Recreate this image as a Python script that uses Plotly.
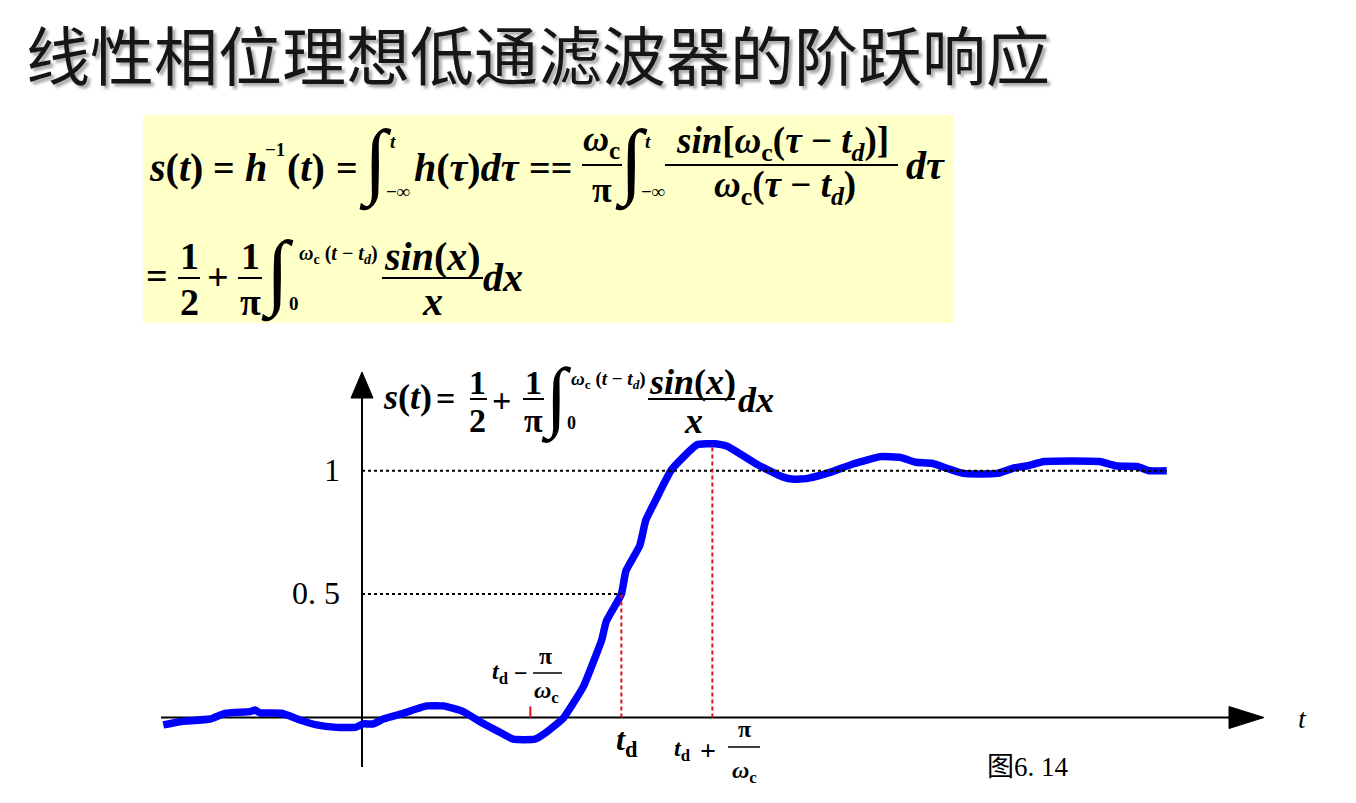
import plotly.graph_objects as go

# ---- data: step response of the linear-phase ideal low-pass filter ----
# t measured in units of pi/omega_c from the origin, s(t) the step response
t_vals = [-2.184, -2.000, -1.670, -1.505, -1.231, -1.176, -1.121, -0.882, -0.681,
          -0.498, -0.278, -0.077, 0.014, 0.124, 0.234, 0.454, 0.711, 0.893, 1.113,
          1.297, 1.480, 1.663, 1.901, 2.011, 2.212, 2.432, 2.579, 2.634, 2.684,
          2.850, 2.901, 3.053, 3.118, 3.226, 3.399, 3.681, 3.877, 4.008, 4.354,
          4.614, 4.744, 4.896, 5.134, 5.395, 5.698, 5.915, 6.088, 6.262, 6.609,
          6.977, 7.173, 7.302, 7.498, 8.104, 8.300, 8.516, 8.646, 8.843]
s_vals = [-0.030, -0.017, -0.006, 0.017, 0.024, 0.030, 0.019, 0.017, -0.010,
          -0.030, -0.040, -0.040, -0.026, -0.026, -0.006, 0.017, 0.047, 0.047, 0.024,
          -0.017, -0.053, -0.088, -0.088, -0.064, -0.003, 0.125, 0.260, 0.314, 0.389,
          0.500, 0.595, 0.697, 0.799, 0.880, 1.003, 1.105, 1.109, 1.100, 1.023,
          0.976, 0.965, 0.969, 0.992, 1.027, 1.057, 1.054, 1.034, 1.030, 0.989,
          0.989, 1.012, 1.019, 1.037, 1.037, 1.019, 1.017, 1.000, 1.000]

TD = 2.85          # t_d
PI_WC = 1.0        # pi / omega_c
HALF = 0.5
ONE = 1.0
PEAK = 1.109       # s(t_d + pi/omega_c)

y_tick_values = [ONE, HALF]
y_tick_labels = ["1", "0. 5"]
title_text = "线性相位理想低通滤波器的阶跃响应"
caption_text = "图6. 14"

# ---- page geometry ----
W, H = 1356, 803
OX, OY = 362.0, 717.5      # pixel position of the origin
KX, KY = 91.0, 246.8       # pixels per unit on t and s

SERIF = "Liberation Serif, Times New Roman, serif"
CJK = "Noto Sans CJK SC, sans-serif"


def u(px):
    return (px - OX) / KX


def v(py):
    return (OY - py) / KY


def paper(px, py):
    return px / W, 1 - py / H


annotations = []
shapes = []


def label(px, py, text, size, xanchor="center", family=SERIF, color="black", **kw):
    x, y = paper(px, py)
    annotations.append(dict(x=x, y=y, xref="paper", yref="paper", text=text,
                            showarrow=False, xanchor=xanchor, yanchor="middle",
                            font=dict(family=family, size=size, color=color), **kw))


def bar(x0, x1, py, width=2):
    a0, b0 = paper(x0, py)
    a1, _ = paper(x1, py)
    shapes.append(dict(type="line", xref="paper", yref="paper", x0=a0, x1=a1,
                       y0=b0, y1=b0, line=dict(color="black", width=width)))


# ---- title ----
label(24, 52, title_text, 64, xanchor="left", family=CJK, color="#161616")
annotations[-1]["font"]["shadow"] = "3px 3px 3px rgba(0,0,0,0.35)"

# ---- formula panel ----
bx0, by0 = paper(143, 115)
bx1, by1 = paper(954, 323)
shapes.append(dict(type="rect", xref="paper", yref="paper", x0=bx0, x1=bx1,
                   y0=by1, y1=by0, fillcolor="#FFFFC8", line=dict(width=0),
                   layer="below"))

OMEGA_C = "<i>ω</i><sub>c</sub>"
TAU_TD = "(<i>τ</i> − <i>t</i><sub><i>d</i></sub>)"
T_TD = "(<i>t</i> − <i>t</i><sub><i>d</i></sub>)"
INTEGRAL = "<b>∫</b>"

# first line
label(176, 168, "<b><i>s</i>(<i>t</i>)</b>", 40)
label(224, 168, "<b>=</b>", 38)
label(256, 168, "<b><i>h</i></b>", 40)
label(275, 150, "<b>−1</b>", 19)
label(306, 168, "<b>(<i>t</i>)</b>", 40)
label(347, 168, "<b>=</b>", 38)
label(375, 162, INTEGRAL, 84)
label(393, 141, "<b><i>t</i></b>", 19)
label(398, 191, "<b>−∞</b>", 19)
label(467, 168, "<b><i>h</i>(<i>τ</i>)<i>dτ</i></b>", 40)
label(550, 168, "<b>==</b>", 38)
label(601, 141, "<b>" + OMEGA_C + "</b>", 36)
bar(582, 622, 165)
label(602, 190, "<b>π</b>", 36)
label(631, 162, INTEGRAL, 84)
label(648, 141, "<b><i>t</i></b>", 19)
label(653, 191, "<b>−∞</b>", 19)
label(782, 143, "<b><i>sin</i>[" + OMEGA_C + TAU_TD + "]</b>", 37)
bar(665, 898, 165)
label(785, 187, "<b>" + OMEGA_C + TAU_TD + "</b>", 37)
label(925, 166, "<b><i>dτ</i></b>", 40)

# second line
label(157, 276, "<b>=</b>", 38)
label(189, 256, "<b>1</b>", 38)
bar(178, 200, 278)
label(189, 302, "<b>2</b>", 38)
label(218, 277, "<b>+</b>", 38)
label(250, 256, "<b>1</b>", 38)
bar(238, 262, 278)
label(250, 302, "<b>π</b>", 38)
label(277, 273, INTEGRAL, 84)
label(338, 255, "<b>" + OMEGA_C + " " + T_TD + "</b>", 20)
label(294, 304, "<b>0</b>", 19)
label(433, 257, "<b><i>sin</i>(<i>x</i>)</b>", 40)
bar(382, 483, 278)
label(433, 302, "<b><i>x</i></b>", 40)
label(503, 277, "<b><i>dx</i></b>", 40)

# ---- formula beside the s axis ----
label(407, 397, "<b><i>s</i>(<i>t</i>)</b>", 36)
label(445, 398, "<b>=</b>", 34)
label(478, 382, "<b>1</b>", 34)
bar(470, 487, 399)
label(478, 420, "<b>2</b>", 34)
label(501, 400, "<b>+</b>", 34)
label(533, 382, "<b>1</b>", 34)
bar(523, 544, 399)
label(533, 420, "<b>π</b>", 34)
label(556, 397, INTEGRAL, 78)
label(608, 380, "<b>" + OMEGA_C + " " + T_TD + "</b>", 19)
label(571, 423, "<b>0</b>", 18)
label(692, 382, "<b><i>sin</i>(<i>x</i>)</b>", 36)
bar(648, 735, 399)
label(693, 421, "<b><i>x</i></b>", 36)
label(756, 400, "<b><i>dx</i></b>", 36)

# ---- axis annotations ----
label(500, 673, "<b><i>t</i><sub>d</sub></b>", 24)
label(521, 673, "<b>−</b>", 24)
label(545, 656, "<b>π</b>", 24)
bar(533, 562, 673, 1.5)
label(546, 692, "<b>" + OMEGA_C + "</b>", 24)

label(627, 741, "<b><i>t</i><sub>d</sub></b>", 32)

label(682, 750, "<b><i>t</i><sub>d</sub></b>", 24)
label(708, 750, "<b>+</b>", 28)
label(744, 729, "<b>π</b>", 24)
bar(728, 760, 747, 1.5)
label(745, 772, "<b>" + OMEGA_C + "</b>", 24)

label(1302, 718, "<i>t</i>", 28)
label(1028, 767, caption_text, 27, family=SERIF + ", " + CJK)

for val, txt in zip(y_tick_values, y_tick_labels):
    label(342, OY - val * KY - 1, txt, 32, xanchor="right")

# ---- axes with arrowheads (data coordinates) ----
AX = dict(color="black", width=2)
shapes.append(dict(type="line", x0=u(161), x1=u(1236), y0=0, y1=0, line=AX, layer="below"))
shapes.append(dict(type="line", x0=0, x1=0, y0=v(767), y1=v(392), line=AX, layer="below"))
shapes.append(dict(type="path",
                   path=f"M {u(1264)},0 L {u(1229)},{v(OY - 11)} L {u(1229)},{v(OY + 11)} Z",
                   fillcolor="black", line=dict(color="black", width=1)))
shapes.append(dict(type="path",
                   path=f"M 0,{v(372)} L {u(OX - 11)},{v(398)} L {u(OX + 11)},{v(398)} Z",
                   fillcolor="black", line=dict(color="black", width=1)))

# reference levels
DOT = dict(color="black", width=2, dash="dot")
shapes.append(dict(type="line", x0=0, x1=t_vals[-1], y0=ONE, y1=ONE, line=DOT))
shapes.append(dict(type="line", x0=0, x1=TD, y0=HALF, y1=HALF, line=DOT))

RED = dict(color="#E0101A", width=2, dash="4px,3px")
shapes.append(dict(type="line", x0=TD, x1=TD, y0=0, y1=HALF, line=RED))
shapes.append(dict(type="line", x0=TD + PI_WC, x1=TD + PI_WC, y0=0, y1=PEAK, line=RED))
shapes.append(dict(type="line", x0=TD - PI_WC, x1=TD - PI_WC, y0=0, y1=0.045,
                   line=dict(color="#E0101A", width=2)))

fig = go.Figure()
fig.add_trace(go.Scatter(x=t_vals, y=s_vals, mode="lines",
                         line=dict(color="#0000FF", width=7.5, shape="spline", smoothing=0.4),
                         hoverinfo="skip", showlegend=False))

fig.update_layout(
    width=W, height=H, autosize=False,
    margin=dict(l=0, r=0, t=0, b=0, pad=0),
    paper_bgcolor="white", plot_bgcolor="rgba(0,0,0,0)",
    xaxis=dict(range=[u(0), u(W)], visible=False, fixedrange=True),
    yaxis=dict(range=[v(H), v(0)], visible=False, fixedrange=True),
    shapes=shapes, annotations=annotations, showlegend=False,
)

fig.write_html("out.html")
